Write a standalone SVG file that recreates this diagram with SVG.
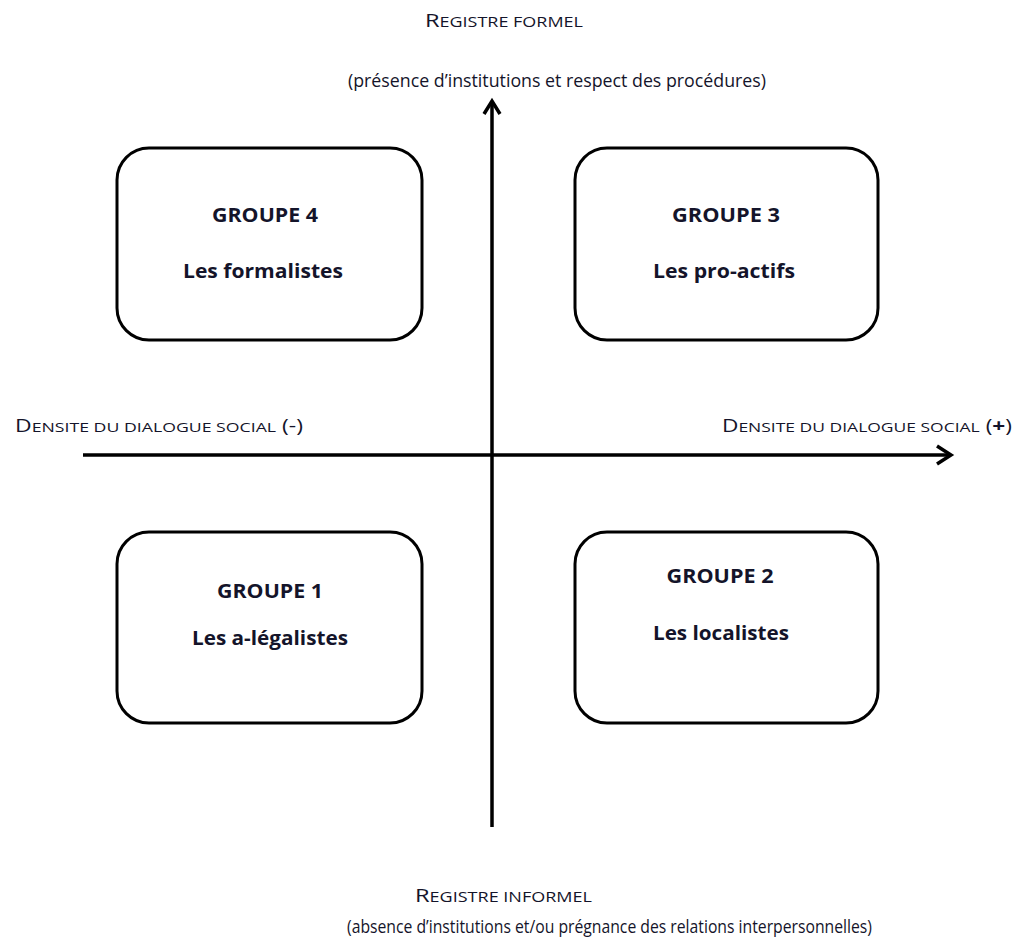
<svg xmlns="http://www.w3.org/2000/svg" width="1018" height="941" viewBox="0 0 1018 941">
<style>
.box{fill:#fff;stroke:#000;stroke-width:3}
.ax{stroke:#000;stroke-width:3.5;fill:none}
.ah{stroke:#000;stroke-width:3.5;fill:none;stroke-linejoin:miter;stroke-linecap:butt}
.t{font-family:"Open Sans","Liberation Sans",sans-serif;fill:#14142a}
.g{font-family:"Open Sans","Liberation Sans",sans-serif;font-weight:bold;font-size:20px;fill:#14142a;text-anchor:middle}
</style>
<rect width="1018" height="941" fill="#fff"/>
<g id="connectors">
<line class="ax" x1="492" y1="827" x2="492" y2="102"/>
<polyline class="ah" points="484,114 492,101 500,114"/>
<line class="ax" x1="83" y1="455" x2="950" y2="455"/>
<polyline class="ah" points="937,446 951,455 937,464"/>
</g>
<g id="labels">
<text class="t" x="425" y="27" textLength="158" lengthAdjust="spacingAndGlyphs"><tspan font-size="19">R</tspan><tspan font-size="14.5">EGISTRE FORMEL</tspan></text>
<text class="t" x="348" y="87" font-size="18.5" textLength="418" lengthAdjust="spacingAndGlyphs">(présence d’institutions et respect des procédures)</text>
<text class="t" x="15" y="432" textLength="288" lengthAdjust="spacingAndGlyphs"><tspan font-size="17.5">D</tspan><tspan font-size="13.5">ENSITE DU DIALOGUE SOCIAL</tspan><tspan font-size="17.5"> (-)</tspan></text>
<text class="t" x="722" y="432" textLength="290" lengthAdjust="spacingAndGlyphs"><tspan font-size="17.5">D</tspan><tspan font-size="13.5">ENSITE DU DIALOGUE SOCIAL</tspan><tspan font-size="17.5"> (<tspan font-weight="bold">+</tspan>)</tspan></text>
<text class="t" x="415" y="902" textLength="177" lengthAdjust="spacingAndGlyphs"><tspan font-size="19">R</tspan><tspan font-size="14.5">EGISTRE INFORMEL</tspan></text>
<text class="t" x="347" y="933" font-size="18.5" textLength="525" lengthAdjust="spacingAndGlyphs">(absence d’institutions et/ou prégnance des relations interpersonnelles)</text>
</g>
<g id="groupe4">
<rect class="box" x="117" y="148" width="305" height="192" rx="32"/>
<text class="g" x="265" y="222" textLength="106" lengthAdjust="spacingAndGlyphs">GROUPE 4</text>
<text class="g" x="263" y="278" textLength="160" lengthAdjust="spacingAndGlyphs">Les formalistes</text>
</g>
<g id="groupe3">
<rect class="box" x="575" y="148" width="303" height="192" rx="32"/>
<text class="g" x="726" y="222" textLength="108" lengthAdjust="spacingAndGlyphs">GROUPE 3</text>
<text class="g" x="724" y="278" textLength="142" lengthAdjust="spacingAndGlyphs">Les pro-actifs</text>
</g>
<g id="groupe1">
<rect class="box" x="117" y="532" width="305" height="191" rx="32"/>
<text class="g" x="270" y="598" textLength="106" lengthAdjust="spacingAndGlyphs">GROUPE 1</text>
<text class="g" x="270" y="645" textLength="156" lengthAdjust="spacingAndGlyphs">Les a-légalistes</text>
</g>
<g id="groupe2">
<rect class="box" x="575" y="532" width="303" height="191" rx="32"/>
<text class="g" x="720" y="583" textLength="107" lengthAdjust="spacingAndGlyphs">GROUPE 2</text>
<text class="g" x="721" y="640" textLength="136" lengthAdjust="spacingAndGlyphs">Les localistes</text>
</g>
</svg>
